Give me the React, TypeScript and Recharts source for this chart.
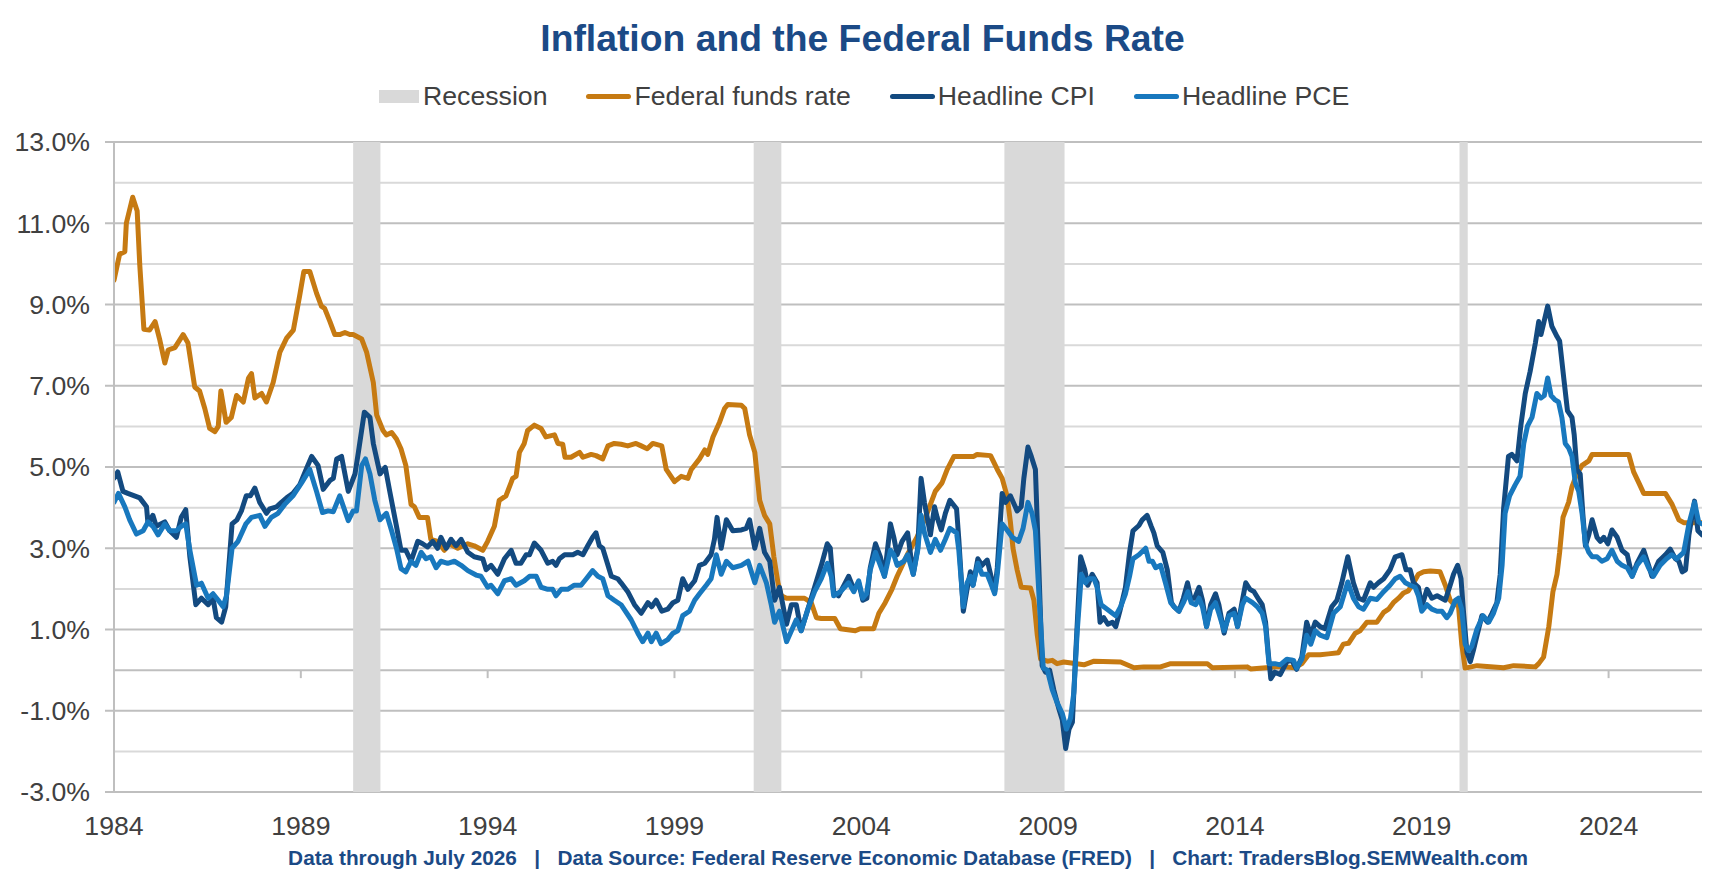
import React from 'react';
import {
  ComposedChart,
  Line,
  XAxis,
  YAxis,
  CartesianGrid,
  ReferenceArea,
  ReferenceLine,
} from 'recharts';

const FONT = "'Liberation Sans', Arial, Helvetica, sans-serif";
const TITLE_COLOR = '#1B4A86';
const TEXT_COLOR = '#404040';
const FFR_COLOR = '#C67A12';
const CPI_COLOR = '#134A80';
const PCE_COLOR = '#1878BE';
const RECESSION_COLOR = '#D9D9D9';

const xTicks = [1984, 1989, 1994, 1999, 2004, 2009, 2014, 2019, 2024];
const yTicks = [-3, -1, 1, 3, 5, 7, 9, 11, 13];
const majorGrid = [-3, -1, 0, 1, 3, 5, 7, 9, 11, 13];
const minorGrid = [-2, 2, 4, 6, 8, 10, 12];
const zeroLineTicks = [1989, 1994, 1999, 2004, 2014, 2019, 2024];

const recessions: [number, number][] = [
  [1990.4, 1991.13],
  [2001.12, 2001.86],
  [2007.83, 2009.44],
  [2020.01, 2020.23],
];

// Federal funds rate [year, %]
const ffrPoints: [number, number][] = [
  [1984.0, 9.6], [1984.15, 10.24], [1984.29, 10.3], [1984.33, 11.0], [1984.5, 11.64], [1984.62, 11.3],
  [1984.69, 9.97], [1984.8, 8.39], [1984.95, 8.37], [1985.1, 8.58], [1985.22, 8.15], [1985.36, 7.56],
  [1985.45, 7.88], [1985.63, 7.94], [1985.85, 8.26], [1985.98, 8.05], [1986.16, 6.97], [1986.29, 6.87],
  [1986.43, 6.44], [1986.56, 5.95], [1986.7, 5.87], [1986.79, 6.0], [1986.86, 6.87], [1987.0, 6.1],
  [1987.14, 6.22], [1987.28, 6.76], [1987.46, 6.6], [1987.6, 7.19], [1987.68, 7.3], [1987.77, 6.7],
  [1987.95, 6.81], [1988.08, 6.6], [1988.26, 7.08], [1988.44, 7.83], [1988.62, 8.17], [1988.8, 8.37],
  [1988.97, 9.22], [1989.08, 9.81], [1989.24, 9.81], [1989.42, 9.28], [1989.55, 8.96], [1989.64, 8.9],
  [1989.78, 8.58], [1989.91, 8.26], [1990.04, 8.26], [1990.18, 8.31], [1990.31, 8.26], [1990.4, 8.26],
  [1990.63, 8.15], [1990.76, 7.83], [1990.94, 7.08], [1991.03, 6.28], [1991.2, 5.9], [1991.29, 5.79],
  [1991.43, 5.85], [1991.56, 5.69], [1991.68, 5.45], [1991.81, 5.04], [1991.95, 4.08], [1992.04, 4.02],
  [1992.17, 3.76], [1992.39, 3.76], [1992.48, 3.22], [1992.66, 3.17], [1992.84, 2.95], [1992.97, 3.11],
  [1993.2, 3.0], [1993.47, 3.11], [1993.64, 3.06], [1993.87, 2.95], [1994.0, 3.17], [1994.18, 3.54],
  [1994.31, 4.18], [1994.49, 4.29], [1994.67, 4.72], [1994.76, 4.77], [1994.85, 5.36], [1994.98, 5.58],
  [1995.07, 5.9], [1995.25, 6.03], [1995.43, 5.95], [1995.56, 5.74], [1995.79, 5.79], [1995.88, 5.58],
  [1996.01, 5.56], [1996.07, 5.24], [1996.23, 5.24], [1996.46, 5.36], [1996.55, 5.24], [1996.77, 5.31],
  [1996.9, 5.28], [1997.08, 5.2], [1997.22, 5.52], [1997.39, 5.58], [1997.57, 5.56], [1997.75, 5.52],
  [1997.97, 5.58], [1998.11, 5.52], [1998.27, 5.45], [1998.42, 5.58], [1998.66, 5.52], [1998.78, 4.94],
  [1999.0, 4.64], [1999.18, 4.77], [1999.36, 4.72], [1999.45, 4.94], [1999.67, 5.2], [1999.81, 5.42],
  [1999.89, 5.31], [2000.03, 5.74], [2000.21, 6.11], [2000.34, 6.44], [2000.43, 6.54], [2000.79, 6.52],
  [2000.88, 6.44], [2001.01, 5.79], [2001.15, 5.36], [2001.28, 4.18], [2001.41, 3.81], [2001.55, 3.6],
  [2001.66, 2.79], [2001.77, 2.15], [2001.86, 1.83], [2002.0, 1.77], [2002.48, 1.77], [2002.66, 1.66],
  [2002.8, 1.29], [2002.93, 1.27], [2003.29, 1.27], [2003.44, 1.02], [2003.84, 0.97], [2003.97, 1.02],
  [2004.33, 1.02], [2004.47, 1.4], [2004.64, 1.66], [2004.82, 1.99], [2004.96, 2.31], [2005.23, 2.84],
  [2005.49, 3.27], [2005.72, 3.76], [2005.98, 4.4], [2006.16, 4.61], [2006.3, 4.94], [2006.48, 5.26],
  [2007.01, 5.26], [2007.1, 5.31], [2007.46, 5.28], [2007.64, 4.94], [2007.77, 4.72], [2007.9, 4.29],
  [2007.99, 3.65], [2008.06, 3.0], [2008.17, 2.47], [2008.28, 2.04], [2008.53, 2.02], [2008.62, 1.72],
  [2008.71, 0.86], [2008.8, 0.27], [2008.98, 0.22], [2009.11, 0.24], [2009.24, 0.16], [2009.42, 0.2],
  [2009.96, 0.13], [2010.23, 0.22], [2010.94, 0.2], [2011.3, 0.06], [2011.56, 0.08], [2012.01, 0.08],
  [2012.28, 0.16], [2012.81, 0.16], [2013.26, 0.16], [2013.39, 0.06], [2014.33, 0.08], [2014.42, 0.03],
  [2015.21, 0.09], [2015.61, 0.06], [2015.79, 0.16], [2015.97, 0.38], [2016.28, 0.38], [2016.5, 0.4],
  [2016.77, 0.43], [2016.9, 0.64], [2017.04, 0.66], [2017.22, 0.91], [2017.35, 0.97], [2017.53, 1.18],
  [2017.8, 1.18], [2017.98, 1.42], [2018.11, 1.5], [2018.24, 1.66], [2018.38, 1.77], [2018.51, 1.9],
  [2018.64, 1.95], [2018.78, 2.15], [2018.91, 2.36], [2019.05, 2.42], [2019.23, 2.44], [2019.49, 2.42],
  [2019.63, 2.09], [2019.76, 1.72], [2019.87, 1.61], [2019.98, 1.61], [2020.07, 0.64], [2020.16, 0.05],
  [2020.48, 0.11], [2021.19, 0.06], [2021.46, 0.11], [2022.04, 0.08], [2022.13, 0.16], [2022.26, 0.32],
  [2022.4, 1.07], [2022.51, 1.93], [2022.62, 2.36], [2022.69, 2.9], [2022.78, 3.76], [2022.93, 4.13],
  [2023.02, 4.51], [2023.15, 4.83], [2023.29, 5.04], [2023.47, 5.15], [2023.56, 5.31], [2024.54, 5.31],
  [2024.67, 4.88], [2024.81, 4.61], [2024.94, 4.35], [2025.52, 4.35], [2025.7, 4.08], [2025.88, 3.7],
  [2026.01, 3.63], [2026.5, 3.63],
];

// Headline CPI, year over year [year, %]
const cpiPoints: [number, number][] = [
  [1984.0, 4.72], [1984.1, 4.88], [1984.24, 4.4], [1984.37, 4.35], [1984.69, 4.24], [1984.87, 4.02],
  [1984.91, 3.6], [1985.04, 3.81], [1985.13, 3.54], [1985.36, 3.65], [1985.49, 3.43], [1985.67, 3.27],
  [1985.8, 3.76], [1985.92, 3.95], [1986.03, 2.79], [1986.19, 1.61], [1986.34, 1.77], [1986.52, 1.61],
  [1986.65, 1.77], [1986.74, 1.29], [1986.88, 1.18], [1986.99, 1.56], [1987.16, 3.6], [1987.29, 3.7],
  [1987.41, 3.92], [1987.54, 4.29], [1987.65, 4.29], [1987.77, 4.48], [1987.9, 4.13], [1988.08, 3.86],
  [1988.17, 3.97], [1988.35, 4.02], [1988.48, 4.13], [1988.62, 4.24], [1988.79, 4.35], [1988.97, 4.56],
  [1989.15, 4.96], [1989.29, 5.26], [1989.46, 5.04], [1989.6, 4.45], [1989.78, 4.67], [1989.87, 4.72],
  [1989.96, 5.2], [1990.09, 5.26], [1990.27, 4.4], [1990.45, 4.83], [1990.54, 5.36], [1990.7, 6.35],
  [1990.85, 6.22], [1990.94, 5.58], [1991.12, 4.83], [1991.26, 4.99], [1991.38, 4.4], [1991.56, 3.54],
  [1991.68, 2.95], [1991.81, 2.95], [1991.95, 2.68], [1992.13, 3.17], [1992.26, 3.11], [1992.39, 3.03],
  [1992.53, 3.17], [1992.66, 3.0], [1992.75, 3.27], [1992.89, 3.0], [1993.02, 3.22], [1993.15, 3.06],
  [1993.29, 3.22], [1993.47, 2.9], [1993.64, 2.79], [1993.87, 2.74], [1993.96, 2.47], [1994.09, 2.58],
  [1994.27, 2.36], [1994.45, 2.74], [1994.63, 2.95], [1994.76, 2.63], [1994.89, 2.63], [1995.03, 2.84],
  [1995.12, 2.84], [1995.25, 3.13], [1995.43, 2.95], [1995.61, 2.63], [1995.74, 2.68], [1995.83, 2.58],
  [1995.92, 2.74], [1996.06, 2.84], [1996.28, 2.84], [1996.41, 2.9], [1996.55, 2.84], [1996.68, 3.06],
  [1996.81, 3.27], [1996.9, 3.38], [1996.99, 3.06], [1997.08, 3.0], [1997.22, 2.58], [1997.31, 2.31],
  [1997.48, 2.25], [1997.57, 2.15], [1997.75, 1.93], [1997.93, 1.61], [1998.11, 1.4], [1998.29, 1.66],
  [1998.39, 1.56], [1998.51, 1.72], [1998.66, 1.45], [1998.82, 1.5], [1998.96, 1.66], [1999.09, 1.72],
  [1999.22, 2.25], [1999.36, 1.99], [1999.54, 2.2], [1999.67, 2.58], [1999.81, 2.63], [1999.98, 2.84],
  [2000.07, 3.22], [2000.14, 3.76], [2000.25, 3.0], [2000.39, 3.7], [2000.56, 3.43], [2000.79, 3.45],
  [2000.92, 3.49], [2001.01, 3.7], [2001.15, 3.0], [2001.28, 3.49], [2001.41, 2.9], [2001.55, 2.68],
  [2001.68, 1.72], [2001.81, 2.04], [2002.0, 1.13], [2002.13, 1.61], [2002.26, 1.61], [2002.39, 0.97],
  [2002.57, 1.5], [2002.75, 2.04], [2002.93, 2.58], [2003.09, 3.11], [2003.17, 3.0], [2003.26, 1.93],
  [2003.39, 1.83], [2003.66, 2.31], [2003.8, 1.99], [2003.93, 2.15], [2004.04, 1.72], [2004.15, 1.77],
  [2004.24, 2.52], [2004.38, 3.11], [2004.51, 2.79], [2004.62, 2.31], [2004.78, 3.6], [2004.87, 3.27],
  [2004.96, 2.84], [2005.09, 3.17], [2005.24, 3.38], [2005.39, 2.36], [2005.51, 3.0], [2005.6, 4.72],
  [2005.69, 4.13], [2005.85, 3.33], [2005.96, 4.02], [2006.03, 3.76], [2006.14, 3.45], [2006.25, 3.86],
  [2006.37, 4.18], [2006.55, 3.97], [2006.61, 3.22], [2006.73, 1.45], [2006.83, 1.99], [2006.92, 2.42],
  [2006.99, 2.09], [2007.12, 2.74], [2007.23, 2.58], [2007.37, 2.71], [2007.46, 2.36], [2007.57, 1.93],
  [2007.64, 2.52], [2007.77, 4.35], [2007.86, 4.13], [2007.99, 4.29], [2008.17, 3.92], [2008.28, 4.02],
  [2008.35, 4.72], [2008.46, 5.49], [2008.55, 5.26], [2008.66, 4.94], [2008.75, 2.58], [2008.84, 0.11],
  [2008.93, -0.05], [2009.04, 0.0], [2009.15, -0.48], [2009.29, -0.96], [2009.38, -1.23], [2009.47, -1.93],
  [2009.56, -1.45], [2009.65, -1.28], [2009.74, 0.43], [2009.87, 2.79], [2009.98, 2.47], [2010.06, 2.09],
  [2010.18, 2.36], [2010.31, 2.15], [2010.39, 1.18], [2010.49, 1.29], [2010.6, 1.13], [2010.72, 1.18],
  [2010.81, 1.07], [2010.92, 1.45], [2011.07, 2.04], [2011.18, 2.9], [2011.27, 3.43], [2011.43, 3.56],
  [2011.52, 3.7], [2011.65, 3.81], [2011.76, 3.54], [2011.83, 3.38], [2011.92, 3.06], [2012.07, 2.9],
  [2012.19, 2.47], [2012.3, 1.66], [2012.37, 1.56], [2012.5, 1.45], [2012.62, 1.77], [2012.73, 2.15],
  [2012.82, 1.77], [2012.92, 1.77], [2013.04, 2.04], [2013.13, 1.72], [2013.24, 1.07], [2013.35, 1.61],
  [2013.48, 1.88], [2013.57, 1.61], [2013.71, 0.91], [2013.84, 1.4], [2013.98, 1.5], [2014.07, 1.07],
  [2014.2, 1.72], [2014.29, 2.15], [2014.4, 1.99], [2014.51, 1.93], [2014.65, 1.72], [2014.73, 1.61],
  [2014.82, 1.18], [2014.89, 0.43], [2014.96, -0.21], [2015.07, -0.05], [2015.21, -0.11], [2015.39, 0.21],
  [2015.52, 0.24], [2015.65, 0.02], [2015.79, 0.32], [2015.92, 1.18], [2016.03, 0.86], [2016.15, 1.18],
  [2016.28, 1.07], [2016.41, 1.02], [2016.59, 1.56], [2016.73, 1.72], [2016.86, 2.15], [2017.02, 2.79],
  [2017.17, 2.15], [2017.31, 1.77], [2017.44, 1.72], [2017.62, 2.15], [2017.71, 2.04], [2017.84, 2.15],
  [2017.98, 2.25], [2018.15, 2.47], [2018.29, 2.79], [2018.47, 2.84], [2018.58, 2.47], [2018.69, 2.47],
  [2018.78, 2.15], [2018.91, 2.04], [2019.0, 1.56], [2019.14, 1.99], [2019.27, 1.77], [2019.41, 1.83],
  [2019.63, 1.72], [2019.76, 2.09], [2019.85, 2.36], [2019.96, 2.58], [2020.05, 2.25], [2020.12, 1.4],
  [2020.21, 0.43], [2020.3, 0.21], [2020.38, 0.48], [2020.48, 0.86], [2020.61, 1.34], [2020.76, 1.18],
  [2020.88, 1.4], [2021.01, 1.66], [2021.1, 2.36], [2021.19, 3.97], [2021.32, 5.26], [2021.41, 5.31],
  [2021.55, 5.15], [2021.65, 6.01], [2021.77, 6.81], [2021.9, 7.35], [2022.04, 8.05], [2022.13, 8.58],
  [2022.19, 8.26], [2022.26, 8.53], [2022.37, 8.96], [2022.48, 8.47], [2022.62, 8.21], [2022.69, 8.1],
  [2022.8, 7.19], [2022.9, 6.38], [2023.02, 6.22], [2023.08, 5.79], [2023.15, 4.94], [2023.24, 4.83],
  [2023.31, 3.86], [2023.38, 3.06], [2023.47, 3.33], [2023.56, 3.7], [2023.69, 3.27], [2023.78, 3.17],
  [2023.87, 3.27], [2023.98, 3.11], [2024.09, 3.45], [2024.23, 3.27], [2024.36, 2.95], [2024.5, 2.84],
  [2024.63, 2.31], [2024.76, 2.63], [2024.94, 2.95], [2025.07, 2.58], [2025.16, 2.31], [2025.34, 2.68],
  [2025.52, 2.84], [2025.65, 2.98], [2025.79, 2.74], [2025.88, 2.68], [2025.97, 2.42], [2026.06, 2.47],
  [2026.15, 3.33], [2026.3, 4.16], [2026.39, 3.43], [2026.5, 3.33],
];

// Headline PCE, year over year [year, %]
const pcePoints: [number, number][] = [
  [1984.0, 4.13], [1984.12, 4.35], [1984.29, 4.02], [1984.42, 3.7], [1984.6, 3.35], [1984.78, 3.43],
  [1984.91, 3.65], [1985.04, 3.54], [1985.18, 3.33], [1985.36, 3.6], [1985.49, 3.43], [1985.67, 3.43],
  [1985.8, 3.54], [1985.92, 3.6], [1986.03, 2.95], [1986.21, 2.09], [1986.34, 2.14], [1986.52, 1.77],
  [1986.65, 1.88], [1986.79, 1.72], [1986.92, 1.56], [1987.01, 1.83], [1987.16, 3.0], [1987.32, 3.17],
  [1987.53, 3.6], [1987.68, 3.76], [1987.9, 3.81], [1988.04, 3.54], [1988.21, 3.76], [1988.39, 3.86],
  [1988.57, 4.08], [1988.79, 4.29], [1989.02, 4.61], [1989.24, 4.94], [1989.42, 4.4], [1989.58, 3.88],
  [1989.73, 3.92], [1989.87, 3.9], [1990.04, 4.29], [1990.27, 3.68], [1990.4, 3.92], [1990.49, 3.92],
  [1990.63, 5.04], [1990.73, 5.2], [1990.85, 4.83], [1990.98, 4.18], [1991.12, 3.7], [1991.29, 3.86],
  [1991.43, 3.43], [1991.56, 3.0], [1991.68, 2.5], [1991.81, 2.42], [1991.95, 2.68], [1992.08, 2.58],
  [1992.22, 2.9], [1992.35, 2.74], [1992.48, 2.79], [1992.62, 2.52], [1992.75, 2.68], [1992.93, 2.63],
  [1993.11, 2.68], [1993.29, 2.58], [1993.47, 2.45], [1993.69, 2.34], [1993.82, 2.31], [1994.0, 2.04],
  [1994.09, 2.09], [1994.27, 1.88], [1994.45, 2.2], [1994.63, 2.25], [1994.76, 2.09], [1994.98, 2.2],
  [1995.12, 2.31], [1995.3, 2.31], [1995.43, 2.04], [1995.61, 1.99], [1995.74, 1.99], [1995.83, 1.83],
  [1995.97, 1.99], [1996.14, 1.99], [1996.32, 2.09], [1996.5, 2.09], [1996.64, 2.25], [1996.81, 2.45],
  [1996.95, 2.31], [1997.08, 2.25], [1997.22, 1.83], [1997.39, 1.72], [1997.57, 1.61], [1997.84, 1.24],
  [1998.02, 0.91], [1998.15, 0.7], [1998.29, 0.91], [1998.38, 0.7], [1998.51, 0.91], [1998.64, 0.65],
  [1998.82, 0.75], [1998.96, 0.91], [1999.09, 0.97], [1999.22, 1.34], [1999.4, 1.45], [1999.54, 1.72],
  [1999.67, 1.88], [1999.85, 2.09], [1999.98, 2.25], [2000.12, 2.84], [2000.25, 2.36], [2000.39, 2.68],
  [2000.56, 2.52], [2000.79, 2.58], [2000.97, 2.68], [2001.15, 2.15], [2001.28, 2.58], [2001.46, 2.15],
  [2001.59, 1.61], [2001.68, 1.18], [2001.81, 1.45], [2002.0, 0.7], [2002.13, 0.97], [2002.26, 1.24],
  [2002.39, 0.97], [2002.57, 1.5], [2002.75, 1.93], [2002.93, 2.25], [2003.09, 2.63], [2003.2, 2.3],
  [2003.26, 1.83], [2003.44, 1.93], [2003.66, 2.15], [2003.8, 1.93], [2003.93, 2.2], [2004.04, 1.77],
  [2004.14, 1.88], [2004.24, 2.47], [2004.38, 2.9], [2004.51, 2.58], [2004.62, 2.31], [2004.78, 2.95],
  [2004.87, 2.84], [2004.96, 2.58], [2005.14, 2.68], [2005.24, 2.84], [2005.39, 2.36], [2005.51, 2.95],
  [2005.6, 3.81], [2005.69, 3.38], [2005.85, 2.9], [2005.98, 3.22], [2006.12, 2.95], [2006.25, 3.22],
  [2006.37, 3.49], [2006.55, 3.38], [2006.61, 2.95], [2006.73, 1.56], [2006.83, 2.15], [2006.92, 2.31],
  [2006.99, 2.09], [2007.12, 2.63], [2007.23, 2.36], [2007.37, 2.36], [2007.46, 2.15], [2007.57, 1.88],
  [2007.64, 2.36], [2007.77, 3.6], [2007.9, 3.45], [2008.04, 3.27], [2008.21, 3.17], [2008.33, 3.49],
  [2008.46, 4.13], [2008.57, 3.86], [2008.66, 3.43], [2008.75, 1.93], [2008.87, 0.05], [2008.98, 0.0],
  [2009.11, -0.48], [2009.24, -0.8], [2009.38, -1.07], [2009.49, -1.45], [2009.6, -1.18], [2009.69, -0.54],
  [2009.78, 0.97], [2009.89, 2.36], [2010.0, 2.15], [2010.09, 2.25], [2010.23, 2.25], [2010.31, 2.04],
  [2010.42, 1.61], [2010.58, 1.5], [2010.72, 1.4], [2010.81, 1.34], [2010.94, 1.56], [2011.07, 1.88],
  [2011.18, 2.31], [2011.27, 2.74], [2011.43, 2.84], [2011.61, 3.0], [2011.7, 2.68], [2011.79, 2.68],
  [2011.88, 2.52], [2012.01, 2.58], [2012.14, 2.15], [2012.28, 1.66], [2012.37, 1.56], [2012.5, 1.45],
  [2012.62, 1.66], [2012.74, 1.93], [2012.83, 1.66], [2012.95, 1.61], [2013.04, 1.77], [2013.13, 1.56],
  [2013.24, 1.07], [2013.35, 1.5], [2013.48, 1.66], [2013.57, 1.4], [2013.71, 0.97], [2013.84, 1.34],
  [2013.98, 1.4], [2014.07, 1.07], [2014.2, 1.61], [2014.29, 1.77], [2014.47, 1.66], [2014.6, 1.56],
  [2014.73, 1.4], [2014.82, 1.07], [2014.91, 0.16], [2015.07, 0.16], [2015.21, 0.13], [2015.39, 0.27],
  [2015.57, 0.24], [2015.65, 0.05], [2015.79, 0.27], [2015.92, 0.86], [2016.03, 0.64], [2016.15, 0.97],
  [2016.28, 0.86], [2016.46, 0.8], [2016.64, 1.4], [2016.82, 1.56], [2017.02, 2.17], [2017.17, 1.77],
  [2017.31, 1.56], [2017.44, 1.5], [2017.62, 1.77], [2017.8, 1.74], [2017.98, 1.93], [2018.15, 2.09],
  [2018.29, 2.25], [2018.42, 2.31], [2018.56, 2.15], [2018.69, 2.09], [2018.82, 2.04], [2018.91, 1.83],
  [2019.0, 1.45], [2019.14, 1.61], [2019.27, 1.5], [2019.41, 1.45], [2019.54, 1.45], [2019.67, 1.29],
  [2019.76, 1.4], [2019.9, 1.72], [2019.98, 1.77], [2020.07, 1.5], [2020.16, 0.64], [2020.25, 0.48],
  [2020.34, 0.59], [2020.48, 1.02], [2020.64, 1.34], [2020.79, 1.18], [2020.92, 1.4], [2021.06, 1.77],
  [2021.15, 2.58], [2021.23, 3.86], [2021.35, 4.29], [2021.5, 4.56], [2021.63, 4.77], [2021.73, 5.58],
  [2021.83, 6.01], [2021.95, 6.22], [2022.08, 6.81], [2022.19, 6.7], [2022.28, 6.76], [2022.37, 7.19],
  [2022.46, 6.76], [2022.57, 6.65], [2022.66, 6.6], [2022.75, 6.22], [2022.84, 5.58], [2022.93, 5.47],
  [2023.02, 5.26], [2023.11, 4.61], [2023.2, 4.4], [2023.29, 3.86], [2023.38, 3.11], [2023.47, 2.9],
  [2023.56, 2.79], [2023.69, 2.79], [2023.82, 2.68], [2023.96, 2.74], [2024.09, 2.95], [2024.23, 2.68],
  [2024.36, 2.58], [2024.5, 2.52], [2024.63, 2.31], [2024.76, 2.58], [2024.94, 2.79], [2025.07, 2.52],
  [2025.2, 2.31], [2025.38, 2.58], [2025.55, 2.74], [2025.69, 2.84], [2025.82, 2.74], [2026.01, 2.9],
  [2026.15, 3.6], [2026.3, 4.13], [2026.41, 3.65], [2026.5, 3.6],
];

const toRows = (pts: [number, number][]) => pts.map(([t, v]) => ({ t, v }));
const ffrData = toRows(ffrPoints);
const cpiData = toRows(cpiPoints);
const pceData = toRows(pcePoints);

const TICK_DEPTH = 0.197; // 8px below the 0% line, in % units
const LINE_WIDTH = 5;

function LegendItem({ kind, color, label }: { kind: 'box' | 'line'; color: string; label: string }) {
  return (
    <div style={{ display: 'flex', alignItems: 'center', marginRight: 39 }}>
      {kind === 'box' ? (
        <div style={{ width: 40, height: 13, background: color, marginRight: 4 }} />
      ) : (
        <div style={{ width: 45, height: 5, background: color, borderRadius: 3, marginRight: 3 }} />
      )}
      <span style={{ fontSize: 26.67, color: TEXT_COLOR, lineHeight: '30px', whiteSpace: 'nowrap' }}>{label}</span>
    </div>
  );
}

export default function App() {
  return (
    <div
      style={{
        position: 'relative',
        width: 1725,
        height: 892,
        background: '#FFFFFF',
        fontFamily: FONT,
        overflow: 'hidden',
      }}
    >
      <style>{'body{margin:0;background:#fff;}'}</style>
      <div
        style={{
          position: 'absolute',
          top: 20,
          left: 0,
          width: 1725,
          textAlign: 'center',
          fontSize: 37.3,
          lineHeight: '37.3px',
          fontWeight: 700,
          color: TITLE_COLOR,
        }}
      >
        Inflation and the Federal Funds Rate
      </div>
      <div
        style={{
          position: 'absolute',
          top: 81,
          left: 379,
          display: 'flex',
          alignItems: 'center',
        }}
      >
        <LegendItem kind="box" color={RECESSION_COLOR} label="Recession" />
        <LegendItem kind="line" color={FFR_COLOR} label="Federal funds rate" />
        <LegendItem kind="line" color={CPI_COLOR} label="Headline CPI" />
        <LegendItem kind="line" color={PCE_COLOR} label="Headline PCE" />
      </div>

      <div style={{ position: 'absolute', top: 0, left: 0 }}>
        <ComposedChart width={1725} height={892} margin={{ top: 142, right: 23, bottom: 40, left: 0 }}>
          <CartesianGrid
            vertical={false}
            horizontalValues={minorGrid}
            stroke="#D9D9D9"
            strokeWidth={2}
            strokeDasharray="0"
          />
          <CartesianGrid
            vertical={false}
            horizontalValues={majorGrid}
            stroke="#BFBFBF"
            strokeWidth={2}
            strokeDasharray="0"
          />
          <XAxis
            type="number"
            dataKey="t"
            domain={[1984, 2026.5]}
            ticks={xTicks}
            interval={0}
            allowDataOverflow
            axisLine={false}
            tickLine={false}
            tickSize={0}
            tickMargin={24}
            height={60}
            tick={{ fill: TEXT_COLOR, fontSize: 26.67, fontFamily: FONT }}
          />
          <YAxis
            type="number"
            domain={[-3, 13]}
            ticks={yTicks}
            interval={0}
            allowDataOverflow
            width={114}
            axisLine={{ stroke: '#BFBFBF', strokeWidth: 2 }}
            tickLine={{ stroke: '#BFBFBF', strokeWidth: 2 }}
            tickSize={9}
            tickMargin={15}
            tickFormatter={(v: number) => `${v.toFixed(1)}%`}
            tick={{ fill: TEXT_COLOR, fontSize: 26.67, fontFamily: FONT }}
          />
          {zeroLineTicks.map((yr) => (
            <ReferenceLine
              key={`zt-${yr}`}
              segment={[
                { x: yr, y: 0 },
                { x: yr, y: -TICK_DEPTH },
              ]}
              stroke="#BFBFBF"
              strokeWidth={2}
            />
          ))}
          {recessions.map(([a, b]) => (
            <ReferenceArea
              key={`rec-${a}`}
              x1={a}
              x2={b}
              fill={RECESSION_COLOR}
              fillOpacity={1}
              stroke="none"
            />
          ))}
          <Line
            data={ffrData}
            dataKey="v"
            type="linear"
            stroke={FFR_COLOR}
            strokeWidth={LINE_WIDTH}
            strokeLinejoin="round"
            strokeLinecap="round"
            dot={false}
            activeDot={false}
            isAnimationActive={false}
          />
          <Line
            data={cpiData}
            dataKey="v"
            type="linear"
            stroke={CPI_COLOR}
            strokeWidth={LINE_WIDTH}
            strokeLinejoin="round"
            strokeLinecap="round"
            dot={false}
            activeDot={false}
            isAnimationActive={false}
          />
          <Line
            data={pceData}
            dataKey="v"
            type="linear"
            stroke={PCE_COLOR}
            strokeWidth={LINE_WIDTH}
            strokeLinejoin="round"
            strokeLinecap="round"
            dot={false}
            activeDot={false}
            isAnimationActive={false}
          />
        </ComposedChart>
      </div>

      <div
        style={{
          position: 'absolute',
          top: 848,
          left: 114,
          width: 1588,
          textAlign: 'center',
          fontSize: 20.8,
          lineHeight: '20.8px',
          fontWeight: 700,
          color: TITLE_COLOR,
          whiteSpace: 'pre',
        }}
      >
        {'Data through July 2026   |   Data Source: Federal Reserve Economic Database (FRED)   |   Chart: TradersBlog.SEMWealth.com'}
      </div>
    </div>
  );
}
